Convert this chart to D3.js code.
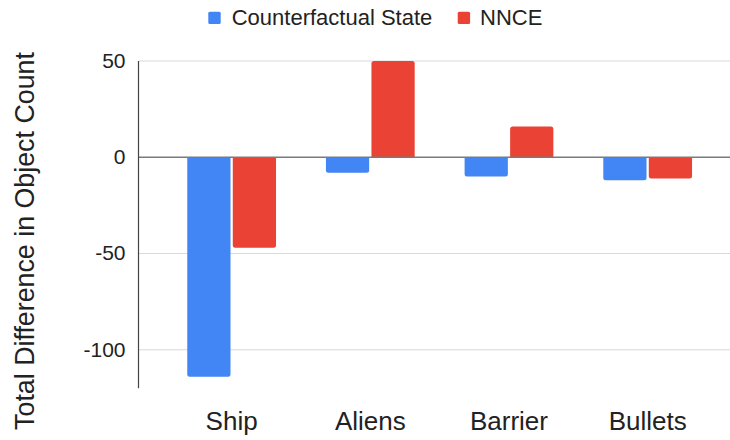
<!DOCTYPE html>
<html>
<head>
<meta charset="utf-8">
<script src="https://cdn.jsdelivr.net/npm/d3@7"></script>
<style>
  html, body { margin: 0; padding: 0; background: #fff; }
  svg { display: block; font-family: Arial, "Liberation Sans", sans-serif; }
</style>
</head>
<body>
<svg id="chart" width="730" height="440"></svg>
<script>
// Data
const categories = ["Ship", "Aliens", "Barrier", "Bullets"];
const seriesNames = ["Counterfactual State", "NNCE"];
const counterfactualValues = [-114, -8, -10, -12];
const nnceValues = [-47, 50, 16, -11];
const yTicks = [50, 0, -50, -100];
const yTitle = "Total Difference in Object Count";

const colors = { "Counterfactual State": "#4285F4", "NNCE": "#EA4335" };
const seriesValues = { "Counterfactual State": counterfactualValues, "NNCE": nnceValues };

const svg = d3.select("#chart");

const axisX = 138.5;
const y = d3.scaleLinear().domain([-120, 50]).range([388.3, 61]);
const x0 = d3.scaleBand().domain(categories).range([162.3, 717]).paddingInner(0.36).paddingOuter(0.18);
const x1 = d3.scaleBand().domain(seriesNames).range([0, x0.bandwidth()]).paddingInner(0.05);

// Gridlines
svg.append("g").selectAll("line")
  .data(yTicks.filter(d => d !== 0))
  .join("line")
  .attr("x1", axisX).attr("x2", 730)
  .attr("y1", d => y(d)).attr("y2", d => y(d))
  .attr("stroke", "#d9d9d9").attr("stroke-width", 1);

// Tick labels
svg.append("g").selectAll("text")
  .data(yTicks)
  .join("text")
  .attr("x", 125.5)
  .attr("y", d => y(d))
  .attr("dy", "0.33em")
  .attr("text-anchor", "end")
  .attr("font-size", 21)
  .attr("fill", "#222")
  .text(d => d);

// Bars: rounded corners on the end away from zero
function barPath(x, w, v) {
  const y0 = y(0), y1 = y(v);
  const r = Math.min(2.5, Math.abs(y1 - y0) / 2);
  if (v < 0) {
    return `M${x},${y0}H${x + w}V${y1 - r}Q${x + w},${y1} ${x + w - r},${y1}H${x + r}Q${x},${y1} ${x},${y1 - r}Z`;
  }
  return `M${x},${y0}H${x + w}V${y1 + r}Q${x + w},${y1} ${x + w - r},${y1}H${x + r}Q${x},${y1} ${x},${y1 + r}Z`;
}

const barData = [];
categories.forEach((c, i) => {
  seriesNames.forEach(s => barData.push({ cat: c, series: s, value: seriesValues[s][i] }));
});

svg.append("g").selectAll("path")
  .data(barData)
  .join("path")
  .attr("d", d => barPath(x0(d.cat) + x1(d.series), x1.bandwidth(), d.value))
  .attr("fill", d => colors[d.series]);

// Zero line
svg.append("line")
  .attr("x1", axisX).attr("x2", 730)
  .attr("y1", y(0)).attr("y2", y(0))
  .attr("stroke", "#7a7a7a").attr("stroke-width", 1.5);

// Vertical axis line
svg.append("line")
  .attr("x1", axisX).attr("x2", axisX)
  .attr("y1", y(50)).attr("y2", y(-120))
  .attr("stroke", "#444").attr("stroke-width", 1.2);

// Category labels
svg.append("g").selectAll("text")
  .data(categories)
  .join("text")
  .attr("x", d => x0(d) + x0.bandwidth() / 2)
  .attr("y", 429.5)
  .attr("text-anchor", "middle")
  .attr("font-size", 26)
  .attr("fill", "#222")
  .text(d => d);

// Y axis title
svg.append("text")
  .attr("transform", `translate(34,241) rotate(-90)`)
  .attr("text-anchor", "middle")
  .attr("font-size", 26.8)
  .attr("fill", "#222")
  .text(yTitle);

// Legend
const legendItems = [
  { name: seriesNames[0], sx: 208.3, tx: 231.7 },
  { name: seriesNames[1], sx: 457.7, tx: 480 }
];
const lg = svg.append("g");
lg.selectAll("rect")
  .data(legendItems)
  .join("rect")
  .attr("x", d => d.sx).attr("y", 11.7)
  .attr("width", 12.4).attr("height", 12.4)
  .attr("rx", 1.5)
  .attr("fill", d => colors[d.name]);
lg.selectAll("text")
  .data(legendItems)
  .join("text")
  .attr("x", d => d.tx).attr("y", 25)
  .attr("font-size", 22)
  .attr("fill", "#222")
  .text(d => d.name);
</script>
</body>
</html>
